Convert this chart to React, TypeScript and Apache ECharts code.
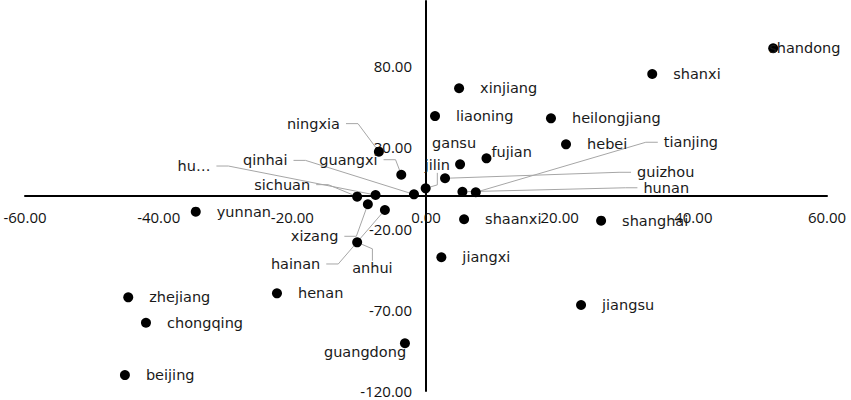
import React, { useEffect, useRef } from "react";
import * as echarts from "echarts";

// ---- data ----
const provinces = [
  "shandong", "shanxi", "xinjiang", "liaoning", "heilongjiang", "hebei",
  "gansu", "fujian", "guizhou", "jilin", "hunan", "tianjing",
  "qinhai", "ningxia", "guangxi", "hu…", "sichuan", "xizang",
  "hainan", "anhui", "yunnan", "zhejiang", "chongqing", "beijing",
  "henan", "guangdong", "shaanxi", "shanghai", "jiangxi", "jiangsu",
];
const xValues = [
  51.95, 33.85, 4.95, 1.35, 18.7, 20.95,
  5.1, 9.05, 2.85, -0.05, 5.45, 7.45,
  -1.8, -7.05, -3.7, -7.55, -10.3, -8.7,
  -6.15, -10.3, -34.45, -44.55, -41.9, -45.05,
  -22.3, -3.15, 5.7, 26.2, 2.3, 23.2,
];
const yValues = [
  90.9, 75.1, 66.3, 49.2, 47.8, 31.8,
  19.5, 23.2, 10.9, 4.7, 2.6, 2.3,
  1.0, 27.3, 13.1, 0.6, -0.4, -5.1,
  -8.6, -28.5, -9.66, -62.35, -78.0, -110.2,
  -59.9, -90.6, -14.3, -15.2, -37.7, -67.1,
];
const xAxisRange = [-60, 60, 20]; // min, max, interval
const yAxisRange = [-120, 120, 50];
const xTickLabels = ["-60.00", "-40.00", "-20.00", "0.00", "20.00", "40.00", "60.00"];
const yTickLabels = ["-120.00", "-70.00", "-20.00", "30.00", "80.00"];

// ---- label placement (style): text-left offset from the dot, vertical offset, leader line ----
const labelPlacement: Record<string, [number, number, boolean]> = {
  shandong: [-4, 0, false],
  gansu: [-28, -21, false],
  fujian: [5, -6, false],
  guangdong: [-81, 9, false],
  jilin: [-1, -23, true],
  guizhou: [192, -6, true],
  hunan: [181, -4, true],
  tianjing: [188, -50, true],
  ningxia: [-92, -28, true],
  guangxi: [-82, -15, true],
  qinhai: [-171, -34, true],
  "hu…": [-198, -29, true],
  sichuan: [-103, -12, true],
  xizang: [-77, 32, true],
  hainan: [-114, 54, true],
  anhui: [-5, 26, true],
};
const PAD = 6;

const W = 851;
const H = 400;
const GRID = { left: 25, right: 24, top: 1, bottom: 9 };

export default function App() {
  const ref = useRef<HTMLDivElement>(null);
  useEffect(() => {
    if (!ref.current) return;
    const chart = echarts.init(ref.current, undefined, { renderer: "svg" });
    const data = provinces.map((name, i) => {
      const o = labelPlacement[name];
      const item: any = { name, value: [xValues[i], yValues[i]] };
      if (o && o[2]) {
        item.labelLine = { show: true };
        item.label = { padding: [0, PAD], backgroundColor: "rgba(0,0,0,0)" };
      }
      return item;
    });
    const fmtX = (v: number) => {
      const idx = Math.round((v - xAxisRange[0]) / xAxisRange[2]);
      return xTickLabels[idx] ?? v.toFixed(2);
    };
    const fmtY = (v: number) => {
      const s = v.toFixed(2);
      return yTickLabels.includes(s) ? s : "";
    };
    // place each axis where the other axis is zero
    const gridW = W - GRID.left - GRID.right;
    const gridH = H - GRID.top - GRID.bottom;
    const xZeroFrac = (0 - xAxisRange[0]) / (xAxisRange[1] - xAxisRange[0]);
    const yZeroFrac = (0 - yAxisRange[0]) / (yAxisRange[1] - yAxisRange[0]);
    chart.setOption({
      animation: false,
      grid: { ...GRID, containLabel: false, outerBoundsMode: "none" },
      xAxis: {
        type: "value",
        position: "bottom",
        offset: -gridH * yZeroFrac,
        min: xAxisRange[0],
        max: xAxisRange[1],
        interval: xAxisRange[2],
        axisLine: { onZero: false, lineStyle: { color: "#000", width: 2 } },
        axisTick: { show: false },
        splitLine: { show: false },
        axisLabel: {
          margin: 13,
          fontSize: 15,
          fontFamily: "Open Sans",
          color: "#111",
          formatter: fmtX,
        },
      },
      yAxis: {
        type: "value",
        position: "left",
        offset: -gridW * xZeroFrac,
        min: yAxisRange[0],
        max: yAxisRange[1],
        interval: yAxisRange[2],
        axisLine: { onZero: false, lineStyle: { color: "#000", width: 2 } },
        axisTick: { show: false },
        splitLine: { show: false },
        axisLabel: {
          margin: 14,
          fontSize: 15,
          fontFamily: "Open Sans",
          color: "#111",
          showMaxLabel: false,
          formatter: fmtY,
        },
      },
      series: [
        {
          type: "scatter",
          symbol: "circle",
          symbolSize: 10,
          itemStyle: { color: "#000", opacity: 1 },
          data,
          label: {
            show: true,
            position: "right",
            distance: 16,
            formatter: "{b}",
            fontSize: 14.5,
            fontFamily: "DejaVu Sans",
            color: "#1a1a1a",
          },
          labelLine: {
            show: false,
            length2: 12,
            lineStyle: { color: "#a6a6a6", width: 1 },
          },
          labelLayout: (p: any) => {
            const name = provinces[p.dataIndex];
            const o = labelPlacement[name];
            if (!o) return {};
            const cx = p.rect.x + p.rect.width / 2;
            const cy = p.rect.y + p.rect.height / 2;
            return {
              x: cx + o[0] - (o[2] ? PAD : 0),
              y: cy + o[1],
              align: "left",
              verticalAlign: "middle",
            };
          },
        },
      ],
    });
    return () => chart.dispose();
  }, []);
  return (
    <div
      ref={ref}
      style={{ position: "fixed", left: 0, top: 0, width: W, height: H, background: "#fff" }}
    />
  );
}
